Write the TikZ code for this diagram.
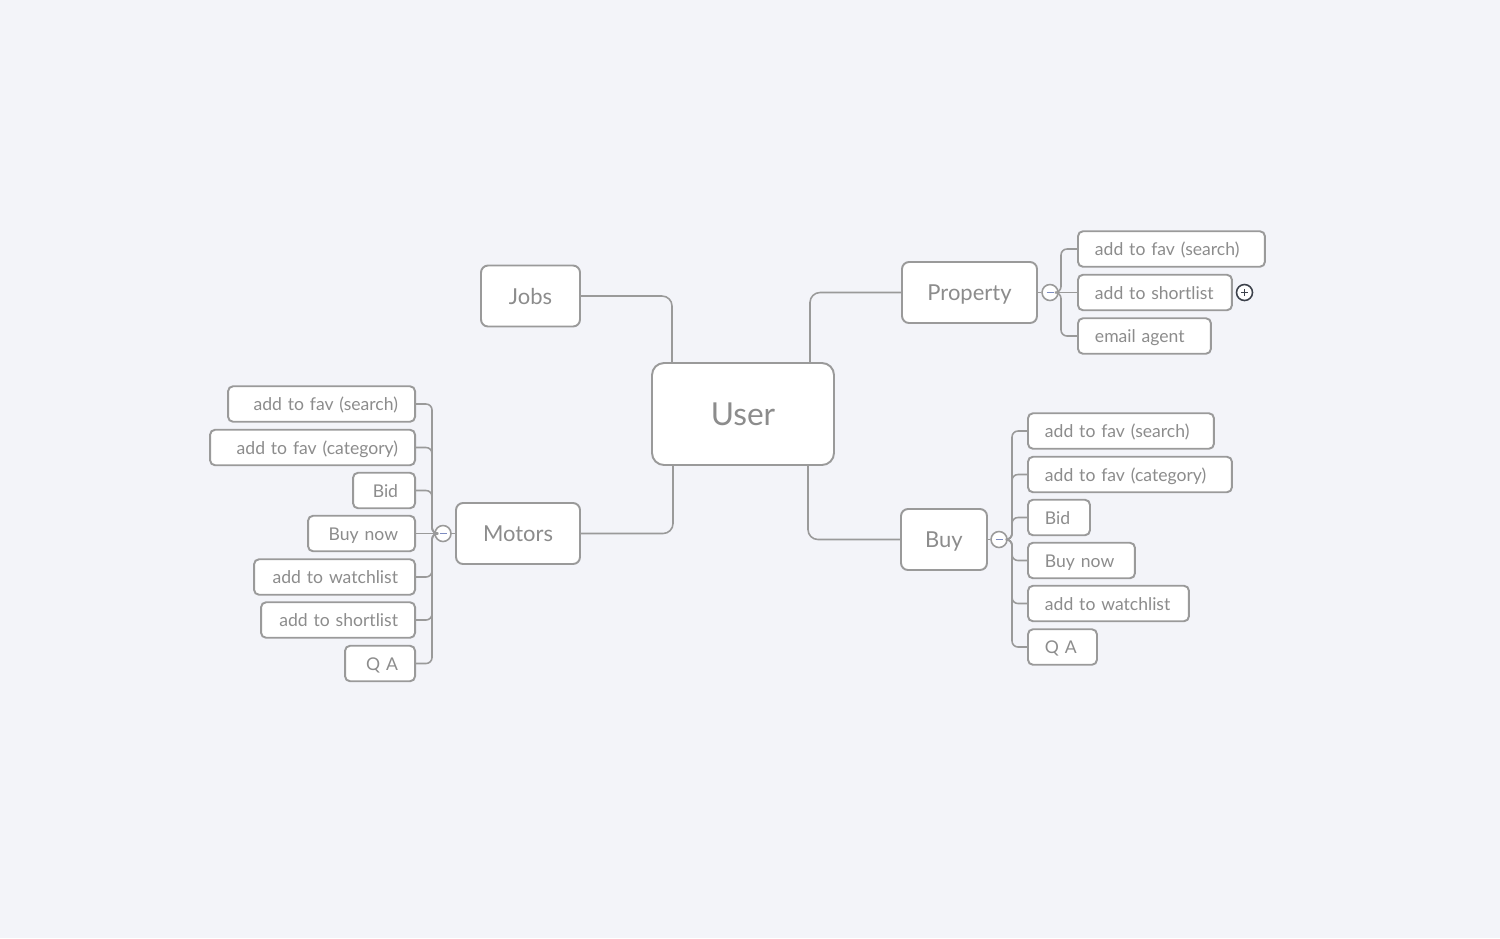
\documentclass[tikz,border=0pt]{standalone}
\usepackage{fontspec}
\setmainfont{Lato}
\usepackage{tikz}
\usetikzlibrary{calc}
\definecolor{bgc}{HTML}{F3F4F9}
\definecolor{linec}{HTML}{9A9A9A}
\definecolor{textc}{HTML}{8C8C8C}
\definecolor{minusc}{HTML}{7D8CC0}
\definecolor{plusc}{HTML}{3C414B}

\begin{document}
\begin{tikzpicture}[x=0.02cm, y=-0.02cm,
	box/.style={draw=linec, line width=1.1pt, fill=white, text=textc},
	root/.style={box, rounded corners=0.24cm, minimum width=3.64cm, minimum height=2.04cm, font=\fontsize{18}{20}\selectfont},
	topic/.style={box, rounded corners=0.14cm, minimum height=1.22cm, text height=10.6pt, text depth=1pt, font=\fontsize{12.5}{14}\selectfont},
	leaf/.style={box, rounded corners=0.1cm, minimum height=0.71cm, inner xsep=0.34cm, inner ysep=0pt, text height=8.8pt, text depth=1.4pt, font=\fontsize{10}{12}\selectfont, text width=#1},
	leafr/.style={leaf=#1, anchor=west, align=left},
	leafl/.style={leaf=#1, anchor=east, align=right},
	fold/.style={circle, draw=linec, line width=0.9pt, fill=white, minimum size=0.32cm, inner sep=0pt},
	link/.style={draw=linec, line width=0.9pt, rounded corners=0.12cm}]

			% background
			\fill[bgc] (0, 0) rectangle (1500, 938);

			% centre and main topics
			\node[root] (user) at (743, 414) {User};
			\node[topic, minimum width=1.98cm] (jobs) at (530.5, 296) {Jobs};
			\node[topic, minimum width=2.70cm] (prop) at (969.5, 292.5) {Property};
			\node[topic, minimum width=2.48cm] (motors) at (518, 533.5) {Motors};
			\node[topic, minimum width=1.72cm] (buy) at (944, 539.5) {Buy};

			\draw[link, rounded corners=0.2cm]([xshift=-1.42cm]user.north) |- (jobs.east);
			\draw[link, rounded corners=0.2cm]([xshift=1.34cm]user.north) |- (prop.west);
			\draw[link, rounded corners=0.2cm]([xshift=-1.40cm]user.south) |- (motors.east);
			\draw[link, rounded corners=0.2cm]([xshift=1.30cm]user.south) |- (buy.west);

			% property branch
			\node[fold] (pfold) at (1050, 292.5) {};
			\coordinate (ptrunk) at (1061, 292.5);
			\node[leafr=3.06cm] (pfavs) at (1077, 249) {add to fav (search)};
			\node[leafr=2.40cm] (pshort) at (1077, 292.5) {add to shortlist};
			\node[leafr=1.98cm] (pmail) at (1077, 336) {email agent};
			\node[fold, draw=plusc] (pplus) at (1244.5, 292.5) {};
			\draw[plusc, line width=0.9pt]([xshift=-0.07cm]pplus.center) -- ([xshift=0.07cm]pplus.center);
			\draw[plusc, line width=0.9pt]([yshift=-0.07cm]pplus.center) -- ([yshift=0.07cm]pplus.center);

			\draw[link](prop) -- (pfold);
			\draw[minusc, line width=0.8pt]([xshift=-0.07cm]pfold.center) -- ([xshift=0.07cm]pfold.center);
			\foreach \leaf in {pfavs, pmail}
				\draw[link](pfold.east) -- (ptrunk) |- (\leaf.west);
			\draw[link](pfold.east) -- (pshort.west);

			% buy branch
			\node[fold] (bfold) at (999, 539.5) {};
			\coordinate (btrunk) at (1012, 539.5);
			\node[leafr=3.04cm] (bfavs) at (1027, 431) {add to fav (search)};
			\node[leafr=3.40cm] (bfavc) at (1027, 474.5) {add to fav (category)};
			\node[leafr=0.56cm] (bbid) at (1027, 517.5) {Bid};
			\node[leafr=1.46cm] (bnow) at (1027, 560.5) {Buy now};
			\node[leafr=2.54cm] (bwatch) at (1027, 603.5) {add to watchlist};
			\node[leafr=0.70cm] (bqa) at (1027, 647) {Q A};

			\draw[link](buy) -- (bfold);
			\draw[minusc, line width=0.8pt]([xshift=-0.07cm]bfold.center) -- ([xshift=0.07cm]bfold.center);
			\foreach \leaf in {bfavs, bfavc, bbid, bnow, bwatch, bqa}
				\draw[link](bfold.east) -- (btrunk) |- (\leaf.west);

			% motors branch
			\node[fold] (mfold) at (443, 533.5) {};
			\coordinate (mtrunk) at (432, 533.5);
			\node[leafl=3.06cm] (mfavs) at (416, 404) {add to fav (search)};
			\node[leafl=3.42cm] (mfavc) at (416, 447.5) {add to fav (category)};
			\node[leafl=0.56cm] (mbid) at (416, 490.5) {Bid};
			\node[leafl=1.46cm] (mnow) at (416, 533.5) {Buy now};
			\node[leafl=2.54cm] (mwatch) at (416, 577) {add to watchlist};
			\node[leafl=2.40cm] (mshort) at (416, 620) {add to shortlist};
			\node[leafl=0.72cm] (mqa) at (416, 663.5) {Q A};

			\draw[link](motors) -- (mfold);
			\draw[minusc, line width=0.8pt]([xshift=-0.07cm]mfold.center) -- ([xshift=0.07cm]mfold.center);
			\foreach \leaf in {mfavs, mfavc, mbid, mwatch, mshort, mqa}
				\draw[link](mfold.west) -- (mtrunk) |- (\leaf.east);
			\draw[link](mfold.west) -- (mnow.east);
		\end{tikzpicture}
\end{document}
